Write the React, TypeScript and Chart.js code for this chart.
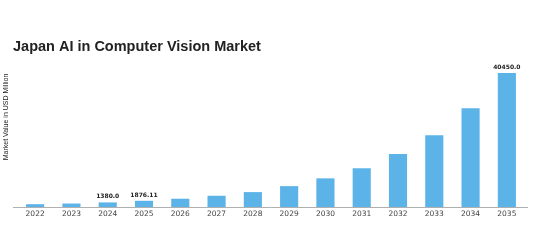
import React, { useEffect, useRef } from "react";
import { Chart, registerables } from "chart.js";

Chart.register(...registerables);

const categories = ["2022", "2023", "2024", "2025", "2026", "2027", "2028", "2029", "2030", "2031", "2032", "2033", "2034", "2035"];
const values = [850, 1050, 1380.0, 1876.11, 2500, 3400, 4500, 6300, 8650, 11700, 16000, 21700, 29800, 40450.0];
const labelTexts = ["", "", "1380.0", "1876.11", "", "", "", "", "", "", "", "", "", "40450.0"];
const chartTitle = "Japan AI in Computer Vision Market";
const yTitle = "Market Value in USD Million";

const textPlugin = {
  id: "texts",
  afterDraw(chart: any) {
    const ctx = chart.ctx;
    ctx.save();
    ctx.fillStyle = "#222";
    ctx.font = "bold 14.5px 'Liberation Sans', Arial, sans-serif";
    ctx.textBaseline = "alphabetic";
    ctx.textAlign = "left";
    ctx.fillText(chartTitle, 13, 51);
    ctx.translate(8, 117);
    ctx.rotate(-Math.PI / 2);
    ctx.font = "7px 'Liberation Sans', Arial, sans-serif";
    ctx.fillStyle = "#222";
    ctx.textAlign = "center";
    ctx.textBaseline = "alphabetic";
    ctx.fillText(yTitle, 0, 0);
    ctx.restore();

    const meta = chart.getDatasetMeta(0);
    ctx.save();
    ctx.font = "bold 6px 'DejaVu Sans', sans-serif";
    ctx.fillStyle = "#222";
    ctx.textAlign = "center";
    ctx.textBaseline = "alphabetic";
    meta.data.forEach((bar: any, i: number) => {
      if (labelTexts[i]) ctx.fillText(labelTexts[i], bar.x, bar.y - 4);
    });
    ctx.restore();

    const area = chart.chartArea;
    ctx.save();
    ctx.strokeStyle = "#b0b0b0";
    ctx.lineWidth = 1;
    ctx.beginPath();
    ctx.moveTo(area.left - 4, Math.round(area.bottom) + 0.5);
    ctx.lineTo(area.right + 3, Math.round(area.bottom) + 0.5);
    ctx.stroke();
    ctx.restore();
  },
};

export default function App() {
  const ref = useRef<HTMLCanvasElement>(null);
  useEffect(() => {
    if (!ref.current) return;
    const chart = new Chart(ref.current, {
      type: "bar",
      data: {
        labels: categories,
        datasets: [
          {
            data: values,
            backgroundColor: "#5cb3e8",
            barPercentage: 0.5,
            categoryPercentage: 1.0,
          },
        ],
      },
      options: {
        animation: false,
        responsive: false,
        maintainAspectRatio: false,
        layout: { padding: { left: 17, right: 12, top: 58, bottom: 30 } },
        plugins: {
          legend: { display: false },
          title: { display: false },
          tooltip: { enabled: false },
        },
        scales: {
          x: {
            grid: { display: false, drawTicks: false, tickLength: 0 },
            border: { display: false },
            ticks: {
              color: "#444",
              font: { family: "'DejaVu Sans', sans-serif", size: 7.5 },
              padding: 3,
              maxRotation: 0,
              autoSkip: false,
            },
          },
          y: {
            display: false,
            min: 0,
            max: 45000,
          },
        },
      },
      plugins: [textPlugin],
    });
    return () => chart.destroy();
  }, []);
  return (
    <div style={{ position: "fixed", left: 0, top: 0, width: 537, height: 252, background: "#fff" }}>
      <canvas ref={ref} width={537} height={252} style={{ width: 537, height: 252 }} />
    </div>
  );
}
